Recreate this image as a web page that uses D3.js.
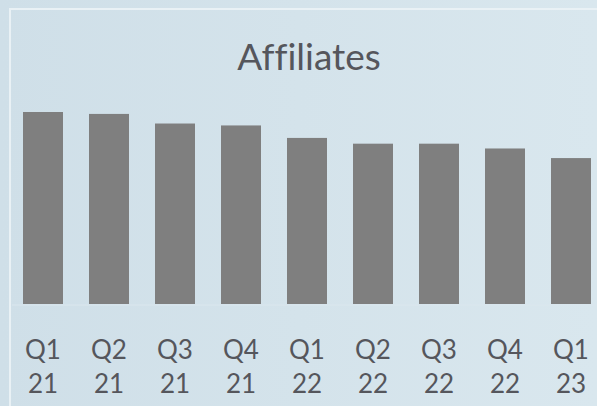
<!DOCTYPE html>
<html>
<head>
<meta charset="utf-8">
<script src="https://cdn.jsdelivr.net/npm/d3@7"></script>
<style>
  html, body { margin: 0; padding: 0; }
  body { width: 597px; height: 406px; overflow: hidden; }
</style>
</head>
<body>
<svg id="chart" width="597" height="406"></svg>
<script>
// chart data
var quarters = ["Q1", "Q2", "Q3", "Q4", "Q1", "Q2", "Q3", "Q4", "Q1"];
var years = ["21", "21", "21", "21", "22", "22", "22", "22", "23"];
var affiliates = [100, 99, 94, 93, 86.5, 83.5, 83.5, 81, 76];

var svg = d3.select("#chart");
var width = 597, height = 406;

// background gradient
var defs = svg.append("defs");
var grad = defs.append("linearGradient")
  .attr("id", "bg")
  .attr("x1", "0%").attr("y1", "0%")
  .attr("x2", "100%").attr("y2", "0%");
grad.append("stop").attr("offset", "0%").attr("stop-color", "#cfdfe8");
grad.append("stop").attr("offset", "100%").attr("stop-color", "#d9e7ee");

svg.append("rect")
  .attr("width", width).attr("height", height)
  .attr("fill", "url(#bg)");

// light frame of the slide box
svg.append("rect")
  .attr("x", 10).attr("y", 9)
  .attr("width", width + 20).attr("height", height + 20)
  .attr("fill", "none")
  .attr("stroke", "#e9f1f5")
  .attr("stroke-width", 2);

var margin = { top: 112, bottom: 304 };

var x = d3.scaleBand()
  .domain(d3.range(affiliates.length))
  .range([23, 591])
  .paddingInner(0.394)
  .paddingOuter(0);

var y = d3.scaleLinear()
  .domain([0, 100])
  .range([margin.bottom, margin.top]);

// title (no ffi ligature, like the original)
svg.append("text")
  .attr("x", 309)
  .attr("y", 70)
  .attr("text-anchor", "middle")
  .style("font-family", "Lato, 'Open Sans', sans-serif")
  .style("font-size", "37px")
  .style("font-variant-ligatures", "none")
  .style("font-feature-settings", "'liga' 0")
  .style("fill", "#55565c")
  .text("Affiliates");

// bars
svg.append("g")
  .selectAll("rect")
  .data(affiliates)
  .join("rect")
  .attr("x", function(d, i) { return x(i); })
  .attr("y", function(d) { return y(d); })
  .attr("width", x.bandwidth())
  .attr("height", function(d) { return y(0) - y(d); })
  .attr("fill", "#7f7f7f");

// faint baseline
svg.append("line")
  .attr("x1", 12).attr("x2", width)
  .attr("y1", y(0) + 1).attr("y2", y(0) + 1)
  .attr("stroke", "#dbe7ee")
  .attr("stroke-width", 1);

// two-line category labels
var xAxis = d3.axisBottom(x).tickSize(0).tickFormat(function(i) { return quarters[i]; });
var gx = svg.append("g")
  .attr("transform", "translate(0," + y(0) + ")")
  .call(xAxis);
gx.select(".domain").remove();
gx.selectAll(".tick text").remove();
gx.selectAll(".tick").each(function(i) {
  var t = d3.select(this).append("text")
    .attr("text-anchor", "middle")
    .style("font-family", "Lato, 'Open Sans', sans-serif")
    .style("font-size", "26px")
    .style("fill", "#55565c");
  t.append("tspan").attr("x", 0).attr("y", 55).text(quarters[i]);
  t.append("tspan").attr("x", 0).attr("y", 89).text(years[i]);
});
</script>
</body>
</html>
